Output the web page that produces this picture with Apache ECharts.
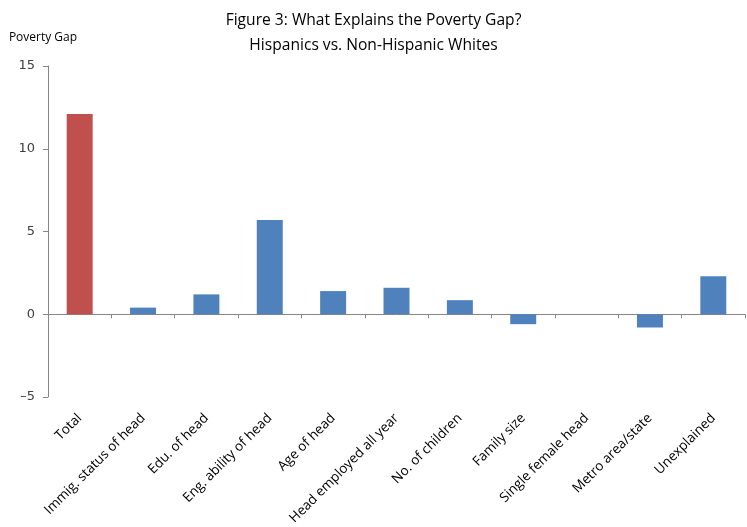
<!DOCTYPE html>
<html>
<head>
<meta charset="utf-8">
<script src="https://cdn.jsdelivr.net/npm/echarts@6/dist/echarts.min.js"></script>
<style>
  html, body { margin: 0; padding: 0; background: #ffffff; }
  #chart { width: 747px; height: 527px; }
</style>
</head>
<body>
<div id="chart"></div>
<script>
// Decomposition of the Hispanic / non-Hispanic white poverty gap
const categories = [
  'Total', 'Immig. status of head', 'Edu. of head', 'Eng. ability of head',
  'Age of head', 'Head employed all year', 'No. of children', 'Family size',
  'Single female head', 'Metro area/state', 'Unexplained'
];
const gapValues = [12.1, 0.4, 1.2, 5.7, 1.4, 1.6, 0.85, -0.6, 0, -0.8, 2.3];
const yTicks = [-5, 0, 5, 10, 15];

const totalColor = '#C0504D';
const partColor = '#4F81BD';

const chart = echarts.init(document.getElementById('chart'), null, { renderer: 'canvas' });

chart.setOption({
  animation: false,
  backgroundColor: '#ffffff',
  title: {
    text: 'Figure 3: What Explains the Poverty Gap?\nHispanics vs. Non-Hispanic Whites',
    left: 'center',
    top: 3,
    textStyle: {
      fontFamily: 'Open Sans',
      fontSize: 15.6,
      fontWeight: 'normal',
      color: '#000000',
      lineHeight: 25
    }
  },
  grid: { left: 48, right: 2, top: 66, bottom: 130, containLabel: false, outerBoundsMode: 'none' },
  xAxis: {
    type: 'category',
    data: categories,
    axisLine: { onZero: true, lineStyle: { color: '#868686', width: 1 } },
    axisTick: { show: true, alignWithLabel: false, length: 4, lineStyle: { color: '#868686' } },
    axisLabel: {
      rotate: 45,
      interval: 0,
      margin: 19,
      fontFamily: 'Open Sans',
      fontSize: 13.5,
      color: '#000000'
    }
  },
  yAxis: {
    type: 'value',
    name: 'Poverty Gap',
    nameLocation: 'end',
    nameGap: 22,
    nameTextStyle: { fontFamily: 'Open Sans', fontSize: 12, color: '#000000', align: 'center', padding: [0, 0, 0, -10] },
    min: yTicks[0],
    max: yTicks[yTicks.length - 1],
    interval: 5,
    axisLine: { show: true, lineStyle: { color: '#868686', width: 1 } },
    axisTick: { show: true, length: 5, lineStyle: { color: '#868686' } },
    axisLabel: {
      fontFamily: 'DejaVu Sans',
      fontSize: 13,
      color: '#404040',
      margin: 13,
      formatter: v => String(v).replace('-', '\u2013')
    },
    splitLine: { show: false }
  },
  series: [{
    type: 'bar',
    barWidth: '41%',
    data: gapValues.map((v, i) => ({
      value: v,
      itemStyle: { color: i === 0 ? totalColor : partColor }
    }))
  }]
});
</script>
</body>
</html>
